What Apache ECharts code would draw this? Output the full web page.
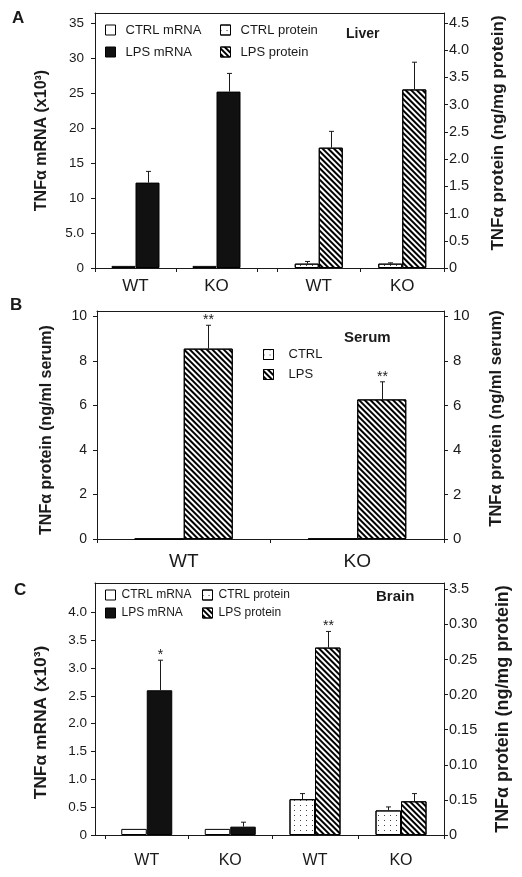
<!DOCTYPE html>
<html><head><meta charset="utf-8">
<script src="https://cdn.jsdelivr.net/npm/echarts@6/dist/echarts.min.js"></script>
<style>html,body{margin:0;padding:0;background:#fff}#c{width:522px;height:877px}</style>
</head><body><div id="c"></div>
<script>
const FONT = '"Liberation Sans", Arial, Helvetica, sans-serif';
const INK = '#1a1a1a';

// ---------- data ----------
const groupCats = ['WT', 'KO'];

// Panel A – Liver
const liverCtrlMrna = [0.3, 0.3];
const liverLpsMrna = [12.2, 25.2];
const liverCtrlMrnaErr = [0, 0];
const liverLpsMrnaErr = [1.6, 2.6];
const liverCtrlProt = [0.08, 0.08];
const liverLpsProt = [2.21, 3.28];
const liverCtrlProtErr = [0.04, 0.015];
const liverLpsProtErr = [0.30, 0.50];
const liverMrnaTicks = [0, 5, 10, 15, 20, 25, 30, 35];
const liverMrnaTickLabels = ['0', '5.0', '10', '15', '20', '25', '30', '35'];
const liverProtTicks = [0, 0.5, 1, 1.5, 2, 2.5, 3, 3.5, 4, 4.5];
const liverProtTickLabels = ['0', '0.5', '1.0', '1.5', '2.0', '2.5', '3.0', '3.5', '4.0', '4.5'];

// Panel B – Serum
const serumCtrl = [0, 0];
const serumLps = [8.55, 6.27];
const serumLpsErr = [1.05, 0.79];
const serumLpsStars = ['**', '**'];
const serumTicks = [0, 2, 4, 6, 8, 10];
const serumTickLabels = ['0', '2', '4', '6', '8', '10'];

// Panel C – Brain
const brainCtrlMrna = [0.11, 0.11];
const brainLpsMrna = [2.6, 0.15];
const brainCtrlMrnaErr = [0, 0];
const brainLpsMrnaErr = [0.54, 0.08];
const brainLpsMrnaStars = ['*', ''];
const brainCtrlProt = [0.051, 0.035];
const brainLpsProt = [0.267, 0.048];
const brainCtrlProtErr = [0.008, 0.005];
const brainLpsProtErr = [0.023, 0.011];
const brainLpsProtStars = ['**', ''];
const brainMrnaTicks = [0, 0.5, 1, 1.5, 2, 2.5, 3, 3.5, 4];
const brainMrnaTickLabels = ['0', '0.5', '1.0', '1.5', '2.0', '2.5', '3.0', '3.5', '4.0'];
const brainProtTicks = [0, 0.05, 0.1, 0.15, 0.2, 0.25, 0.3, 0.35];
const brainProtTickLabels = ['0', '0.15', '0.10', '0.15', '0.20', '0.25', '0.30', '3.5'];

// ---------- helpers ----------
function tickLabel(ticks, labels) {
  return v => { const i = ticks.findIndex(t => Math.abs(t - v) < 1e-9); return i < 0 ? '' : labels[i]; };
}
function visibleY(gridIndex, position, max, ticks, labels, fs, margin, name, nameGap, namePad, nameFs) {
  return {
    type: 'value', gridIndex, position, min: 0, max,
    axisLine: { show: true, onZero: false, lineStyle: { color: INK, width: 1 } },
    axisTick: { show: true, inside: false, length: 4, customValues: ticks, lineStyle: { color: INK } },
    axisLabel: { customValues: ticks, formatter: tickLabel(ticks, labels), color: INK, fontFamily: FONT, fontSize: fs, margin },
    splitLine: { show: false },
    name, nameLocation: 'middle', nameRotate: 90, nameGap,
    nameTextStyle: { fontFamily: FONT, fontWeight: 'bold', fontSize: nameFs, color: INK, padding: namePad }
  };
}
function hiddenY(gridIndex, max) { return { type: 'value', gridIndex, min: 0, max, show: false }; }
function lineX(gridIndex, position) {
  return { type: 'value', gridIndex, position, min: 0, max: 1,
    axisLine: { show: true, onZero: false, lineStyle: { color: INK, width: 1 } },
    axisTick: { show: false }, axisLabel: { show: false }, splitLine: { show: false } };
}
function catX(gridIndex, fs, margin, showLine) {
  return { type: 'category', gridIndex, data: groupCats, position: 'bottom',
    axisLine: { show: !!showLine, onZero: false, lineStyle: { color: INK, width: 1 } },
    axisTick: { show: true, length: 4, lineStyle: { color: INK } },
    axisLabel: { color: INK, fontFamily: FONT, fontSize: fs, margin },
    splitLine: { show: false } };
}

const hatch = { symbol: 'rect', symbolSize: 1, color: '#000', dashArrayX: [1, 0], dashArrayY: [1.3, 2.0], rotation: Math.PI / 4 };
const dots = { symbol: 'rect', symbolSize: 1, color: '#444', dashArrayX: [1, 5], dashArrayY: [1, 4], rotation: 0 };
const ctrlMrnaStyle = { color: '#fff' };
const lpsMrnaStyle = { color: '#111' };
const ctrlProtStyle = { color: '#fff', decal: dots };
const lpsProtStyle = { color: '#fff', decal: hatch };

function bar(name, data, xi, yi, width, style) {
  return { type: 'bar', name, data, xAxisIndex: xi, yAxisIndex: yi, barWidth: width, barGap: '0%',
    itemStyle: Object.assign({ borderColor: '#000', borderWidth: 1 }, style),
    emphasis: { disabled: true }, silent: true, animation: false };
}
function errSeries(vals, errs, stars, side, xi, yi, barWidth) {
  return {
    type: 'custom', xAxisIndex: xi, yAxisIndex: yi, silent: true, z: 5, animation: false,
    data: vals.map((v, i) => [i, v, errs[i]]),
    renderItem(params, api) {
      const i = params.dataIndex;
      const c = api.value(0), v = api.value(1), e = api.value(2);
      const p0 = api.coord([c, v]);
      const p1 = api.coord([c, v + e]);
      const x = Math.round(p0[0] + side * barWidth / 2) + 0.5;
      const children = [];
      if (e > 0) {
        children.push({ type: 'line', shape: { x1: x, y1: p0[1], x2: x, y2: p1[1] }, style: { stroke: INK, lineWidth: 1 } });
        children.push({ type: 'line', shape: { x1: x - 2.5, y1: p1[1], x2: x + 2.5, y2: p1[1] }, style: { stroke: INK, lineWidth: 1 } });
      }
      const s = stars && stars[i];
      if (s) children.push({ type: 'text', x: x, y: p1[1] - 5, style: { text: s, fill: INK, fontSize: 14, fontFamily: FONT, align: 'center', verticalAlign: 'middle' } });
      return { type: 'group', children };
    }
  };
}
function legend(names, left, top, fs, gap, pad) {
  return { data: names, orient: 'vertical', left, top, itemWidth: 10, itemHeight: 10, itemGap: gap, icon: 'rect',
    selectedMode: false, padding: 0,
    textStyle: { fontFamily: FONT, fontSize: fs, color: INK, padding: [0, 0, 0, pad] },
    itemStyle: { borderColor: '#000', borderWidth: 1 } };
}
function ttl(text, left, top, fs) {
  return { text, left, top, padding: 0, textStyle: { fontFamily: FONT, fontWeight: 'bold', fontSize: fs, color: INK } };
}

// ---------- option ----------
const A_BW = 24, B_BW = 49, C_BW = 25.5;
const option = {
  backgroundColor: '#fff',
  animation: false,
  title: [
    ttl('A', 12, 10, 17), ttl('Liver', 346, 27, 14),
    ttl('B', 10, 297, 17), ttl('Serum', 344, 330, 15),
    ttl('C', 14, 582, 17), ttl('Brain', 376, 589, 15)
  ],
  legend: [
    legend(['CTRL mRNA', 'LPS mRNA'], 105, 23.5, 13, 9, 5),
    legend(['CTRL protein', 'LPS protein'], 220, 23.5, 13, 9, 5),
    legend(['CTRL', 'LPS'], 263, 348, 13, 7, 10),
    legend(['CTRL mRNA', 'LPS mRNA'], 105, 589, 12, 6, 1),
    legend(['CTRL protein', 'LPS protein'], 202, 589, 12, 6, 1)
  ],
  grid: [
    { left: 95, top: 13, width: 349, height: 255 },   // 0 A frame
    { left: 95, top: 13, width: 162, height: 255 },   // 1 A mRNA
    { left: 277, top: 13, width: 167, height: 255 },  // 2 A protein
    { left: 97, top: 311, width: 347, height: 228 },  // 3 B
    { left: 95, top: 583, width: 349, height: 252 },  // 4 C frame
    { left: 105, top: 583, width: 167, height: 252 }, // 5 C mRNA
    { left: 272, top: 583, width: 172, height: 252 }  // 6 C protein
  ],
  xAxis: [
    lineX(0, 'top'), lineX(0, 'bottom'),
    catX(1, 17, 10), catX(2, 17, 10),
    catX(3, 19, 13, true), lineX(3, 'top'),
    lineX(4, 'top'), lineX(4, 'bottom'),
    catX(5, 16, 18), catX(6, 16, 18)
  ],
  yAxis: [
    visibleY(0, 'left', 36.43, liverMrnaTicks, liverMrnaTickLabels, 13.5, 11, 'TNFα mRNA (x10³)', 45, [0, 0, 0, 0], 16),
    visibleY(0, 'right', 4.684, liverProtTicks, liverProtTickLabels, 14.5, 5, 'TNFα protein (ng/mg protein)', 46, [0, 0, 0, 15], 17),
    hiddenY(1, 36.43), hiddenY(2, 4.684),
    visibleY(3, 'left', 10.24, serumTicks, serumTickLabels, 14, 10, 'TNFα protein (ng/ml serum)', 42, [0, 10, 0, 0], 16),
    visibleY(3, 'right', 10.24, serumTicks, serumTickLabels, 15, 9, 'TNFα protein (ng/ml serum)', 44, [0, 0, 0, 13], 16.5),
    visibleY(4, 'left', 4.527, brainMrnaTicks, brainMrnaTickLabels, 13.5, 8, 'TNFα mRNA (x10³)', 45, [0, 27, 0, 0], 17.4),
    visibleY(4, 'right', 0.359, brainProtTicks, brainProtTickLabels, 14.5, 5, 'TNFα protein (ng/mg protein)', 50, [0, 0, 0, 0], 17.9),
    hiddenY(5, 4.527), hiddenY(6, 0.359)
  ],
  series: [
    // A
    bar('CTRL mRNA', liverCtrlMrna, 2, 2, A_BW, ctrlMrnaStyle),
    bar('LPS mRNA', liverLpsMrna, 2, 2, A_BW, lpsMrnaStyle),
    bar('CTRL protein', liverCtrlProt, 3, 3, A_BW, ctrlProtStyle),
    bar('LPS protein', liverLpsProt, 3, 3, A_BW, lpsProtStyle),
    errSeries(liverCtrlMrna, liverCtrlMrnaErr, null, -1, 2, 2, A_BW),
    errSeries(liverLpsMrna, liverLpsMrnaErr, null, 1, 2, 2, A_BW),
    errSeries(liverCtrlProt, liverCtrlProtErr, null, -1, 3, 3, A_BW),
    errSeries(liverLpsProt, liverLpsProtErr, null, 1, 3, 3, A_BW),
    // B
    bar('CTRL', serumCtrl, 4, 4, B_BW, ctrlProtStyle),
    bar('LPS', serumLps, 4, 4, B_BW, lpsProtStyle),
    errSeries(serumLps, serumLpsErr, serumLpsStars, 1, 4, 4, B_BW),
    // C
    bar('CTRL mRNA', brainCtrlMrna, 8, 8, C_BW, ctrlMrnaStyle),
    bar('LPS mRNA', brainLpsMrna, 8, 8, C_BW, lpsMrnaStyle),
    bar('CTRL protein', brainCtrlProt, 9, 9, C_BW, ctrlProtStyle),
    bar('LPS protein', brainLpsProt, 9, 9, C_BW, lpsProtStyle),
    errSeries(brainCtrlMrna, brainCtrlMrnaErr, null, -1, 8, 8, C_BW),
    errSeries(brainLpsMrna, brainLpsMrnaErr, brainLpsMrnaStars, 1, 8, 8, C_BW),
    errSeries(brainCtrlProt, brainCtrlProtErr, null, -1, 9, 9, C_BW),
    errSeries(brainLpsProt, brainLpsProtErr, brainLpsProtStars, 1, 9, 9, C_BW)
  ]
};
const chart = echarts.init(document.getElementById('c'), null, { renderer: 'canvas' });
chart.setOption(option);
</script></body></html>
